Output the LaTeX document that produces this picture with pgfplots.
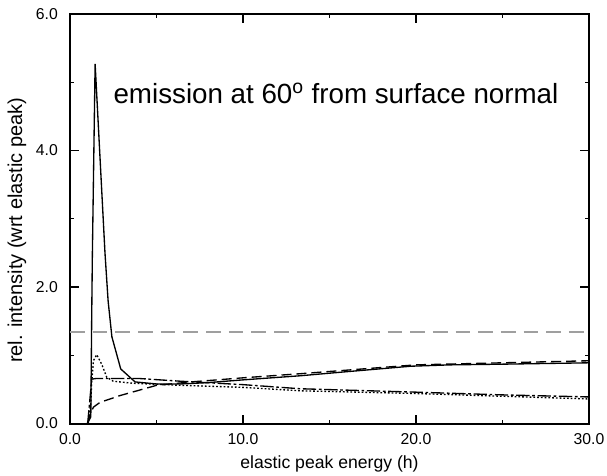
\documentclass[border=0pt]{standalone}
\usepackage{fontspec}
\setmainfont{Liberation Sans}
\usepackage{pgfplots}
\pgfplotsset{compat=1.18}
\usetikzlibrary{calc}

\begin{document}
\begin{tikzpicture}
\begin{axis}[
    scale only axis,
    width=389pt, height=307pt,
    xmin=0, xmax=30, ymin=0, ymax=6,
    xtick={0,10,20,30}, minor xtick={5,15,25},
    ytick={0,2,4,6}, minor ytick={1,3,5},
    major tick length=6.75pt, minor tick length=3pt,
    tick style={black, line width=0.9pt},
    axis line style={line width=1.5pt},
    /pgf/number format/fixed,
    /pgf/number format/fixed zerofill,
    /pgf/number format/precision=1,
    /pgf/number format/assume math mode=true,
    tick label style={font=\fontsize{11.8}{14}\selectfont},
    xticklabel style={inner sep=0pt, yshift=-7.5pt},
    yticklabel style={inner sep=0pt, xshift=-9pt},
    xlabel={elastic peak energy (h)},
    ylabel={rel. intensity (wrt elastic peak)},
    xlabel style={font=\fontsize{13.2}{16}\selectfont, at={(rel axis cs:0.5,0)}, anchor=base, yshift=-33.75pt},
    ylabel style={font=\fontsize{15}{18}\selectfont, at={($(rel axis cs:0,0.472)+(-39.75pt,0)$)}, anchor=center},
    clip=true,
]
\coordinate (bl) at (rel axis cs:0,0);
\coordinate (tr) at (rel axis cs:1,1);
% reference level
\addplot[gray!75, line width=0.9pt, dash pattern=on 11pt off 6pt] coordinates {(0,1.34) (30,1.34)};
% solid
\addplot[black, line width=1pt] coordinates {
(1.0,0) (1.2,0.1) (1.25,1.5) (1.29,2.46) (1.45,5.27) (2.02,2.5) (2.2,1.8)
(2.42,1.27) (2.93,0.80) (3.76,0.61) (5.0,0.58) (6.4,0.58) (8,0.60) (10,0.64)
(13.3,0.70) (16,0.76) (19.7,0.84) (22,0.86) (25,0.87) (30,0.89)};
% dotted
\addplot[black, line width=1pt, dash pattern=on 1.3pt off 1.5pt] coordinates {
(1.05,0) (1.2,0.3) (1.25,0.59) (1.35,0.92) (1.54,1.01) (1.83,0.87) (2.12,0.68)
(2.5,0.62) (3.66,0.59) (6.4,0.56) (10,0.53) (13.3,0.48) (20,0.44) (25,0.40) (30,0.36)};
% long dash dot
\addplot[black, line width=1pt, dash pattern=on 10pt off 2pt on 2pt off 2pt] coordinates {
(1.02,0) (1.2,0.5) (1.25,0.65) (1.5,0.66) (4.0,0.66) (6.4,0.62) (10,0.57)
(13.3,0.51) (20,0.46) (25,0.42) (30,0.39)};
% short dash
\addplot[black, line width=1pt, dash pattern=on 7.5pt off 3.75pt] coordinates {
(1.0,0) (1.15,0.12) (1.35,0.24) (1.73,0.31) (2.89,0.41) (5.0,0.56) (7,0.61)
(10,0.67) (13.3,0.73) (20,0.86) (25,0.89) (30,0.92)};
\node[anchor=base west, font=\fontsize{20.8}{25}\selectfont, inner sep=0pt]
    at (axis cs:2.5,4.69) {emission at 60\textsuperscript{o} from surface normal};
\end{axis}
\pgfresetboundingbox
\path ($(bl)+(-52.5pt,-39pt)$) rectangle ($(tr)+(13.5pt,10.5pt)$);
\end{tikzpicture}
\end{document}
